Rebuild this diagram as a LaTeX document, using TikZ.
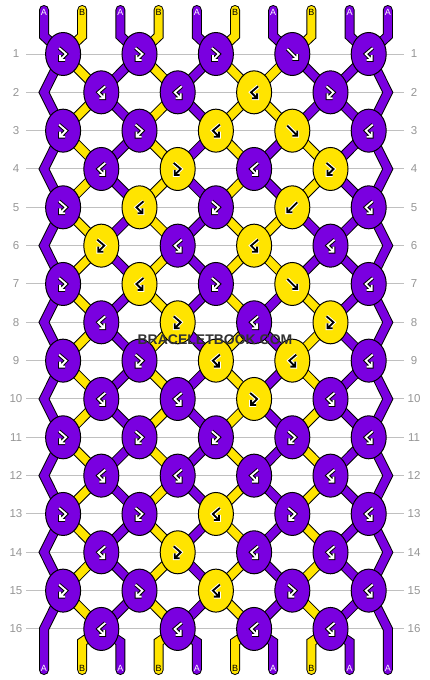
\documentclass[tikz,border=0pt]{standalone}
\usepackage{fontspec}
\setmainfont{Liberation Sans}
\usetikzlibrary{calc,shapes.geometric}
\definecolor{purp}{RGB}{122,0,224}
\definecolor{yell}{RGB}{255,228,0}
\definecolor{rulegray}{RGB}{192,192,192}
\definecolor{numgray}{RGB}{150,150,150}
\definecolor{markgray}{RGB}{50,50,50}
\pgfdeclarelayer{grid}
\pgfdeclarelayer{strands}
\pgfsetlayers{grid,strands,main}
\tikzset{
  knot/.style={draw=black, line width=1pt, ellipse, minimum width=35pt, minimum height=43pt, inner sep=0pt},
  knot P/.style={knot, fill=purp},
  knot Y/.style={knot, fill=yell},
  halo P/.style={draw=black, line width=3.8pt, line join=miter},
  halo Y/.style={draw=white, line width=3.8pt, line join=miter},
  tip P/.style={draw=white, line width=1.8pt, line join=miter},
  tip Y/.style={draw=black, line width=1.8pt, line join=miter},
  icon f/.style={insert path={(-5,-5) -- (5,5) (5,0) -- (5,5) -- (0,5)}},
  icon b/.style={insert path={(5,-5) -- (-5,5) (-5,0) -- (-5,5) -- (0,5)}},
  icon fb/.style={insert path={(-4,-6) -- (3,0) -- (-3,6) (-3,1) -- (-3,6) -- (2,6)}},
  icon bf/.style={insert path={(4,-6) -- (-3,0) -- (3,6) (3,1) -- (3,6) -- (-2,6)}},
  strand/.style={draw=black, line width=1pt, double distance=8pt, line join=miter},
  letter/.style={font=\fontsize{9}{9}\selectfont, inner sep=0pt},
  rownum/.style={font=\fontsize{11.5}{12}\selectfont, text=numgray, inner sep=0pt},
  wmark/.style={font=\bfseries\fontsize{14}{14}\selectfont, inner sep=0pt}
}

\begin{document}
\begin{tikzpicture}[x=1pt, y=-1pt]
		%%%%% START %%%%%
		\useasboundingbox (0,0) rectangle (430,680);
		
		\begin{pgfonlayer}{grid}
		\fill[white] (0,0) rectangle (430,680);
		\foreach \r in {1,...,16} {
			\draw[rulegray, line width=1pt] (26,{54+38.33*(\r-1)}) -- (404,{54+38.33*(\r-1)});
			\node[rownum] (numl-\r) at (16,{54+38.33*(\r-1)}) {\r};
			\node[rownum] (numr-\r) at (414,{54+38.33*(\r-1)}) {\r};
		}
		\end{pgfonlayer}
		
		% knots
		\foreach \r/\row in {1/{fb/P,fb/P,fb/P,f/P,bf/P}, 2/{bf/P,bf/P,bf/Y,fb/P},
				3/{fb/P,fb/P,bf/Y,f/Y,bf/P}, 4/{bf/P,fb/Y,bf/P,fb/Y},
				5/{fb/P,bf/Y,fb/P,b/Y,bf/P}, 6/{fb/Y,bf/P,bf/Y,bf/P},
				7/{fb/P,bf/Y,fb/P,f/Y,bf/P}, 8/{bf/P,fb/Y,bf/P,fb/Y},
				9/{fb/P,fb/P,bf/Y,bf/Y,bf/P}, 10/{bf/P,bf/P,fb/Y,bf/P},
				11/{fb/P,fb/P,fb/P,fb/P,bf/P}, 12/{bf/P,bf/P,bf/P,bf/P},
				13/{fb/P,fb/P,bf/Y,fb/P,bf/P}, 14/{bf/P,fb/Y,bf/P,bf/P},
				15/{fb/P,fb/P,bf/Y,fb/P,bf/P}, 16/{bf/P,bf/P,bf/P,bf/P}} {
			\foreach \t/\c [count=\i] in \row {
				\pgfmathsetmacro\kx{mod(\r,2)==1 ? 63.1+76.4*(\i-1) : 101.3+76.4*(\i-1)}
				\node[knot \c] (k-\r-\i) at (\kx,{54+38.33*(\r-1)}) {};
				\draw[halo \c, shift={(k-\r-\i.center)}, icon \t];
				\draw[tip \c, shift={(k-\r-\i.center)}, icon \t];
			}
		}
		
		\begin{pgfonlayer}{strands}
		% strands between knots
		\foreach \r/\sw in {1/1,2/1,3/0,4/0,5/1,6/1,7/0,8/0,9/0,10/0,11/0,12/0,13/0,14/0,15/0} {
			\pgfmathtruncatemacro\rn{\r+1}
			\foreach \p in {2,...,9} {
				\pgfmathtruncatemacro\ka{mod(\r,2)==1 ? (\p+1)/2 : \p/2}
				\pgfmathtruncatemacro\kb{mod(\r,2)==1 ? \p/2 : (\p+1)/2}
				\pgfmathtruncatemacro\yel{mod(\p+\sw*(\p>6)*(\p<9),2)==0}
				\ifnum\yel=1 \def\col{yell}\else\def\col{purp}\fi
				\draw[strand, double=\col] (k-\r-\ka.center) -- (k-\rn-\kb.center);
			}
		}
		% edges
		\foreach \r in {1,3,...,13} {
			\pgfmathtruncatemacro\rr{\r+2}
			\draw[strand, double=purp] (k-\r-1.center) -- (44,{54+38.33*\r}) -- (k-\rr-1.center);
			\draw[strand, double=purp] (k-\r-5.center) -- (387.8,{54+38.33*\r}) -- (k-\rr-5.center);
		}
		% top and bottom ends
		\foreach \p/\col in {1/purp,2/yell,3/purp,4/yell,5/purp,6/yell,7/purp,8/yell,9/purp,10/purp} {
			\pgfmathtruncatemacro\k{(\p+1)/2}
			\pgfmathtruncatemacro\kk{\p/2}
			\pgfmathsetmacro\sx{44+38.2*(\p-1)}
			\draw[strand, double=\col, line cap=round] (\sx,10) -- (\sx,36) -- (k-1-\k.center);
			\ifnum\p=1
				\draw[strand, double=\col, line cap=round] (k-15-1.center) -- (\sx,629) -- (\sx,670);
			\else\ifnum\p=10
				\draw[strand, double=\col, line cap=round] (k-15-5.center) -- (\sx,629) -- (\sx,670);
			\else
				\draw[strand, double=\col, line cap=round] (k-16-\kk.center) -- (\sx,642) -- (\sx,670);
			\fi\fi
		}
		\end{pgfonlayer}
		
		% string letters
		\foreach \p/\s/\tc in {1/A/white,2/B/black,3/A/white,4/B/black,5/A/white,6/B/black,7/A/white,8/B/black,9/A/white,10/A/white} {
			\pgfmathsetmacro\sx{44+38.2*(\p-1)}
			\node[letter, text=\tc] (top-\p) at (\sx,12) {\s};
			\node[letter, text=\tc] (bot-\p) at (\sx,668) {\s};
		}
		
		\node[wmark, text=markgray] (wm) at (215,340) {BRACELETBOOK.COM};
		%%%%% END %%%%%
\end{tikzpicture}
\end{document}
